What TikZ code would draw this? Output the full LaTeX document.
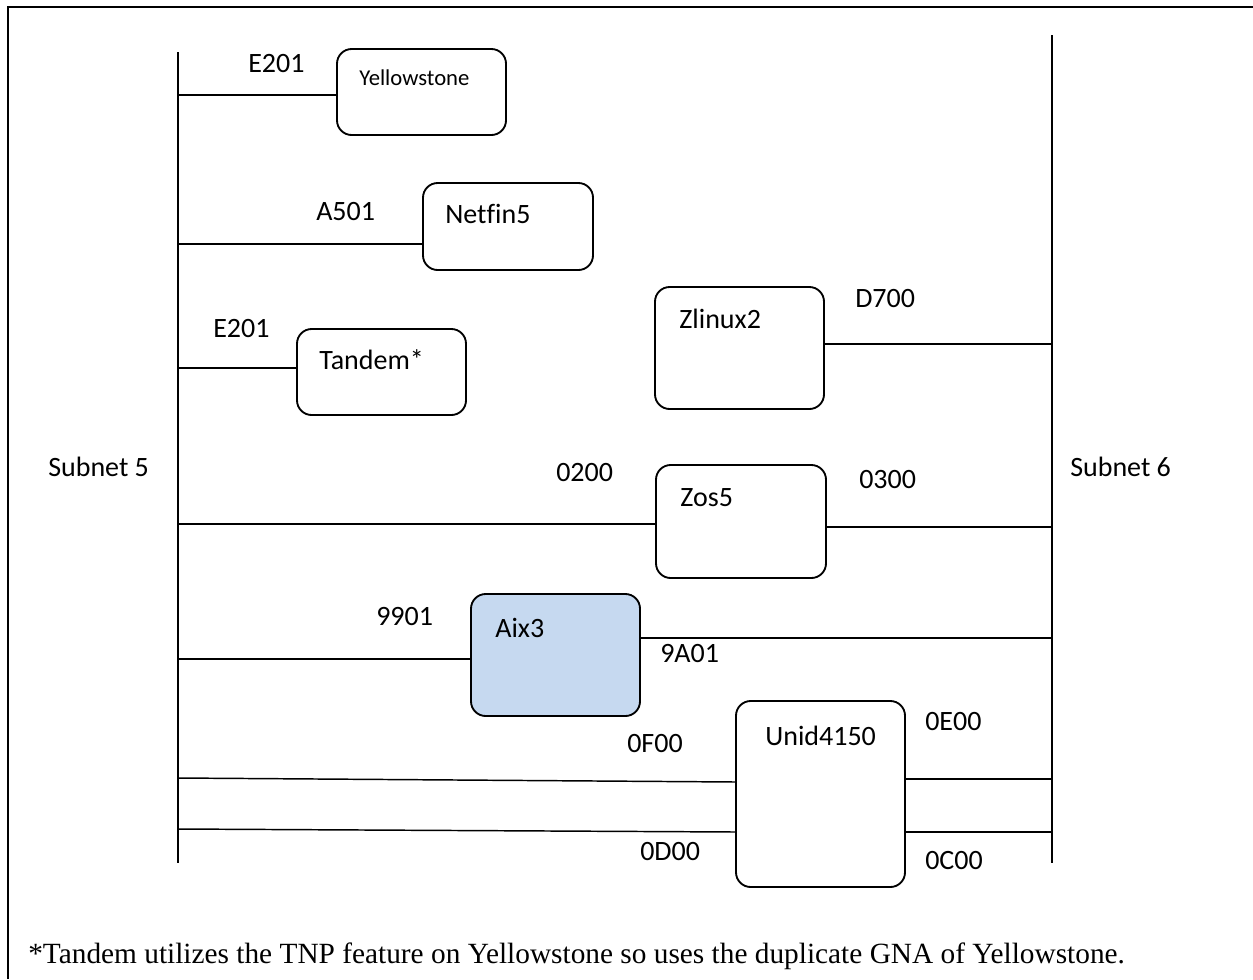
\documentclass[tikz,border=0pt]{standalone}
\usepackage{fontspec}
\setmainfont[Ligatures=NoCommon]{Carlito}
\newfontfamily\footfont{Liberation Serif}
\usetikzlibrary{calc}
\definecolor{aixblue}{RGB}{198,217,240}
\begin{document}
\begin{tikzpicture}[x=0.75pt,y=-0.75pt,
  host/.style={draw, line width=1.4pt, rounded corners=11pt, inner sep=0pt},
  bus/.style={line width=1.5pt},
  link/.style={line width=1.1pt},
  txt/.style={inner sep=0pt, anchor=base west, font=\fontsize{21}{25}\selectfont},
  smalltxt/.style={inner sep=0pt, anchor=base west, font=\fontsize{17}{20}\selectfont}]
\useasboundingbox (0,0) rectangle (1253,979);
% frame
\draw[line width=1.8pt] (8,979) -- (8,7) -- (1253,7);
% buses
\coordinate (b5top) at (178,52);
\coordinate (b5bot) at (178,863);
\coordinate (b6top) at (1052,35);
\coordinate (b6bot) at (1052,863);
\draw[bus] (b5top) -- (b5bot);
\draw[bus] (b6top) -- (b6bot);
\node[txt] (s5) at (48,476) {Subnet 5};
\node[txt] (s6) at (1070,476) {Subnet 6};
% hosts
\node[host, minimum width=126.75pt, minimum height=64.5pt] (yel) at (421.5,92) {};
\node[host, minimum width=127.5pt, minimum height=65.25pt] (net) at (508,226.5) {};
\node[host, minimum width=126.75pt, minimum height=64.5pt] (tan) at (381.5,372) {};
\node[host, minimum width=126.75pt, minimum height=91.5pt] (zli) at (739.5,348) {};
\node[host, minimum width=127.5pt, minimum height=84.75pt] (zos) at (741,521.5) {};
\node[host, fill=aixblue, minimum width=126.75pt, minimum height=91.5pt] (aix) at (555.5,655) {};
\node[host, minimum width=126.75pt, minimum height=139.5pt] (uni) at (820.5,794) {};
% host names
\node[smalltxt] (yelT) at ([shift={(23,37)}]yel.north west) {Yellowstone};
\node[txt] (netT) at ([shift={(23,41)}]net.north west) {Netfin5};
\node[txt] (tanT) at ([shift={(23,41)}]tan.north west) {Tandem*};
\node[txt] (zliT) at ([shift={(25,42)}]zli.north west) {Zlinux2};
\node[txt] (zosT) at ([shift={(25,42)}]zos.north west) {Zos5};
\node[txt] (aixT) at ([shift={(25,44)}]aix.north west) {Aix3};
\node[txt] (uniT) at ([shift={(30,45)}]uni.north west) {Unid4150};
% connection points on buses
\coordinate (c1) at (178,95);
\coordinate (c2) at (178,244);
\coordinate (c3) at (178,368);
\coordinate (c4) at (1052,344);
\coordinate (c5) at (178,524);
\coordinate (c6) at (1052,527);
\coordinate (c7) at (178,659);
\coordinate (c8) at (1052,638);
\coordinate (c9) at (178,778);
\coordinate (c10) at (178,829);
\coordinate (c11) at (1052,779);
\coordinate (c12) at (1052,832);
\coordinate (u1) at (736,782);
\coordinate (u2) at (736,832);
% connectors
\draw[link] (c1) -- (c1 -| yel.west);
\draw[link] (c2) -- (c2 -| net.west);
\draw[link] (c3) -- (c3 -| tan.west);
\draw[link] (c4 -| zli.east) -- (c4);
\draw[link] (c5) -- (c5 -| zos.west);
\draw[link] (c6 -| zos.east) -- (c6);
\draw[link] (c7) -- (c7 -| aix.west);
\draw[link] (c8 -| aix.east) -- (c8);
\draw[link] (c9) -- (u1);
\draw[link] (c10) -- (u2);
\draw[link] (c11 -| uni.east) -- (c11);
\draw[link] (c12 -| uni.east) -- (c12);
% address labels
\node[txt] (a1) at (248,72) {E201};
\node[txt] (a2) at (316,220) {A501};
\node[txt] (a3) at (213,337) {E201};
\node[txt] (a4) at (855,307) {D700};
\node[txt] (a5) at (556,481) {0200};
\node[txt] (a6) at (859,488) {0300};
\node[txt] (a7) at (376,625) {9901};
\node[txt] (a8) at (660,662) {9A01};
\node[txt] (a9) at (925,730) {0E00};
\node[txt] (a10) at (627,752) {0F00};
\node[txt] (a11) at (640,860) {0D00};
\node[txt] (a12) at (925,869) {0C00};
% footnote
\node[inner sep=0pt, anchor=base west, font=\footfont\fontsize{22}{26}\selectfont] (foot) at (28,963) {*Tandem utilizes the TNP feature on Yellowstone so uses the duplicate GNA of Yellowstone.};
\end{tikzpicture}
\end{document}
